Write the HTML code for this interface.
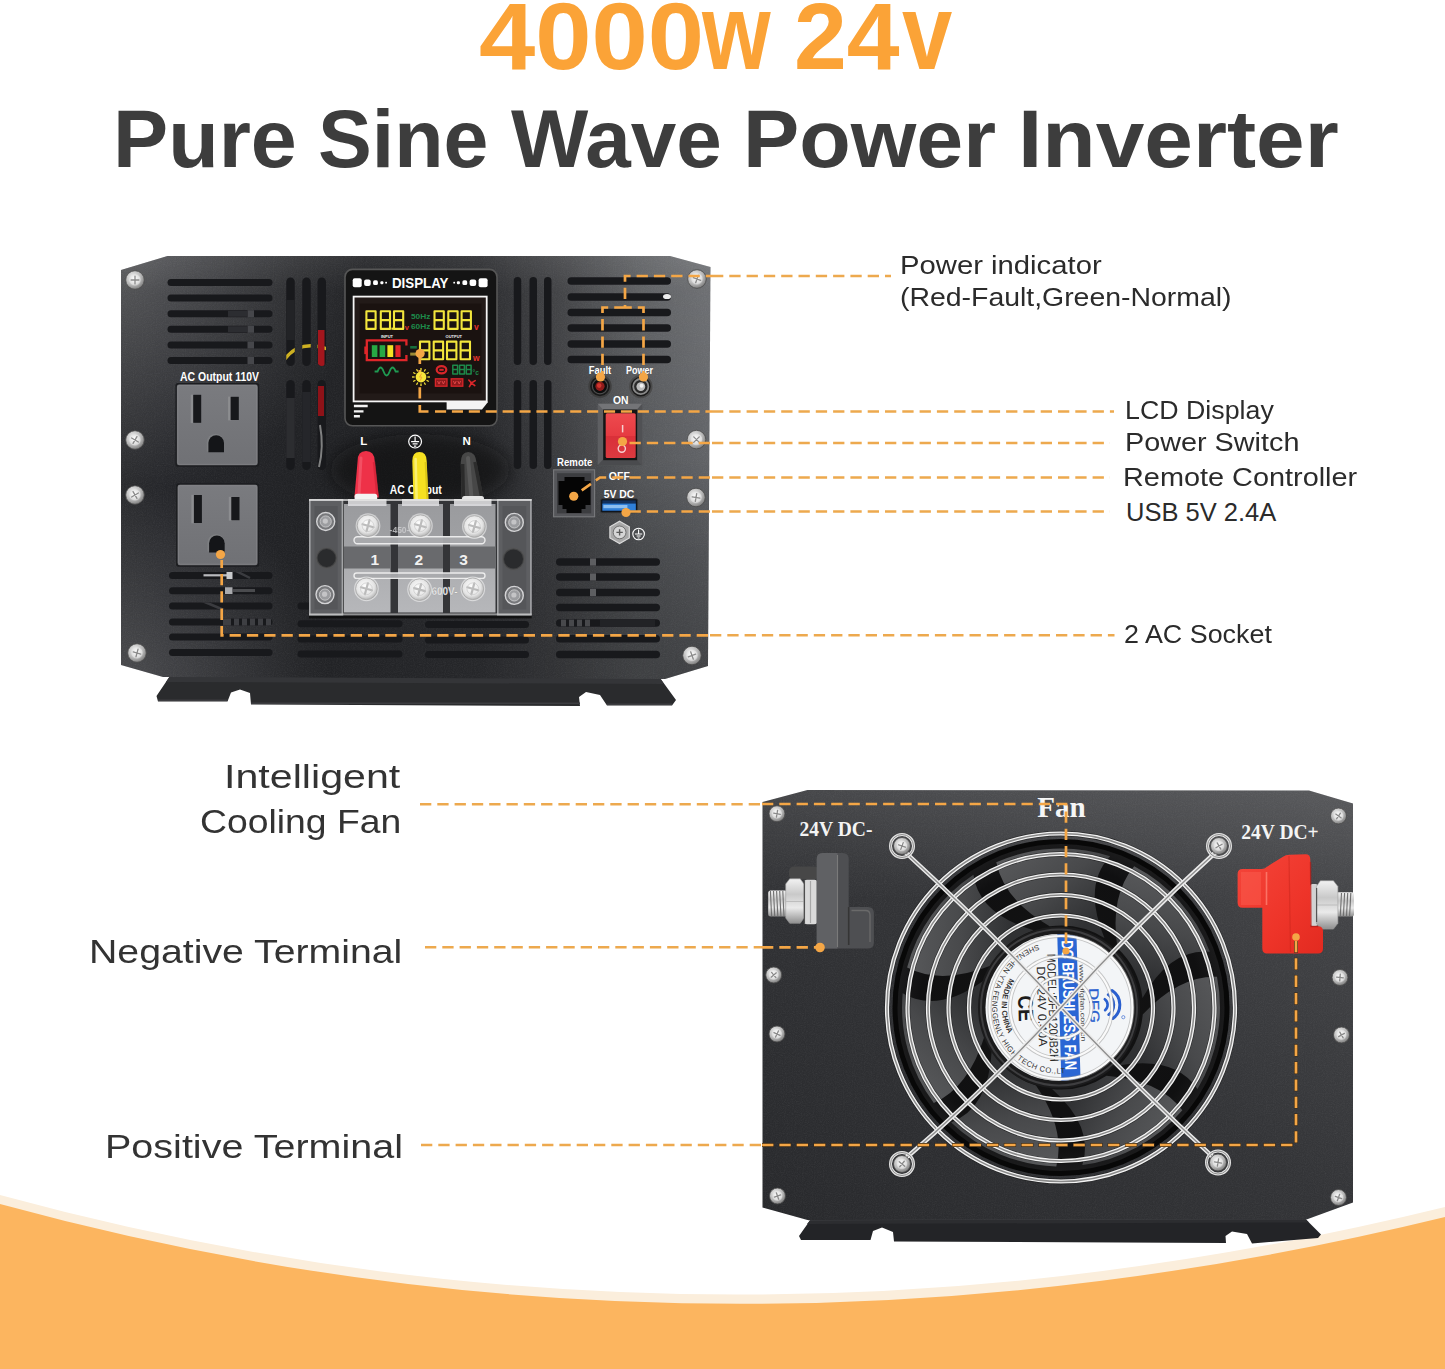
<!DOCTYPE html>
<html lang="en"><head><meta charset="utf-8"><title>4000w 24v Pure Sine Wave Power Inverter</title>
<style>
html,body{margin:0;padding:0;background:#fff}
body{width:1445px;height:1369px;overflow:hidden;position:relative;font-family:"Liberation Sans",sans-serif}
svg{position:absolute;left:0;top:0;display:block}
.grp{position:absolute;left:0;top:0;margin:0;padding:0;width:0;height:0;font-size:0;line-height:0}
.t{display:block;position:absolute;white-space:nowrap;transform-origin:0 0;line-height:1;margin:0}
svg text{font-family:"Liberation Sans",sans-serif}
svg text.serif{font-family:"Liberation Serif",serif}
</style></head><body>
<svg width="1445" height="1369" viewBox="0 0 1445 1369">
<path d="M0 1195 Q707 1388 1445 1207 V1369 H0Z" fill="#fbeedc"/>
<path d="M0 1204 Q707 1397 1445 1217 V1369 H0Z" fill="#fcb55f"/>
</svg>
<svg width="1445" height="1369" viewBox="0 0 1445 1369">
<defs>
<radialGradient id="gScrew" cx="0.4" cy="0.35" r="0.75"><stop offset="0" stop-color="#f4f4f4"/><stop offset="0.55" stop-color="#b9b9b9"/><stop offset="1" stop-color="#6a6a6a"/></radialGradient>
<radialGradient id="gScrewIn" cx="0.45" cy="0.4" r="0.7"><stop offset="0" stop-color="#ffffff"/><stop offset="0.7" stop-color="#dcdcdc"/><stop offset="1" stop-color="#a8a8a8"/></radialGradient>
<linearGradient id="gBodyT" gradientUnits="userSpaceOnUse" x1="121" y1="0" x2="710" y2="0"><stop offset="0" stop-color="#292a2d"/><stop offset="0.075" stop-color="#25262a"/><stop offset="0.30" stop-color="#212225"/><stop offset="0.61" stop-color="#26272a"/><stop offset="0.745" stop-color="#37383b"/><stop offset="0.88" stop-color="#4e5053"/><stop offset="1" stop-color="#5b5d61"/></linearGradient><radialGradient id="gTL" gradientUnits="userSpaceOnUse" cx="130" cy="256" r="235"><stop offset="0" stop-color="#fff" stop-opacity="0.22"/><stop offset="1" stop-color="#fff" stop-opacity="0"/></radialGradient><radialGradient id="gBL" gradientUnits="userSpaceOnUse" cx="130" cy="682" r="200"><stop offset="0" stop-color="#fff" stop-opacity="0.16"/><stop offset="1" stop-color="#fff" stop-opacity="0"/></radialGradient><radialGradient id="gTR" gradientUnits="userSpaceOnUse" cx="712" cy="256" r="300"><stop offset="0" stop-color="#fff" stop-opacity="0.13"/><stop offset="1" stop-color="#fff" stop-opacity="0"/></radialGradient><radialGradient id="gBR" gradientUnits="userSpaceOnUse" cx="712" cy="684" r="230"><stop offset="0" stop-color="#000" stop-opacity="0.30"/><stop offset="1" stop-color="#000" stop-opacity="0"/></radialGradient><linearGradient id="gTopBand" gradientUnits="userSpaceOnUse" x1="0" y1="256" x2="0" y2="292"><stop offset="0" stop-color="#fff" stop-opacity="0.07"/><stop offset="1" stop-color="#fff" stop-opacity="0"/></linearGradient>
<linearGradient id="gSock" x1="0" y1="0" x2="0" y2="1"><stop offset="0" stop-color="#7a7b7f"/><stop offset="1" stop-color="#707175"/></linearGradient>
<linearGradient id="gRed" x1="0" y1="0" x2="0" y2="1"><stop offset="0" stop-color="#ee4a4e"/><stop offset="0.5" stop-color="#e63b42"/><stop offset="0.52" stop-color="#d93039"/><stop offset="1" stop-color="#dc3a40"/></linearGradient>
<linearGradient id="gCell" x1="0" y1="0" x2="0" y2="1"><stop offset="0" stop-color="#9a9b9e"/><stop offset="0.38" stop-color="#a0a1a4"/><stop offset="0.62" stop-color="#aeafb2"/><stop offset="1" stop-color="#b6b7ba"/></linearGradient>
<radialGradient id="gTS" cx="0.45" cy="0.4" r="0.7"><stop offset="0" stop-color="#ffffff"/><stop offset="0.6" stop-color="#e4e4e4"/><stop offset="1" stop-color="#9d9d9d"/></radialGradient>
<filter id="grain" x="0" y="0" width="100%" height="100%"><feTurbulence type="fractalNoise" baseFrequency="0.9" numOctaves="2" seed="3" result="n"/><feColorMatrix in="n" type="matrix" values="0 0 0 0 1  0 0 0 0 1  0 0 0 0 1  0.5 0.5 0.5 0 -0.62"/><feComposite in2="SourceGraphic" operator="in"/></filter>
<filter id="blur6" x="-50%" y="-100%" width="200%" height="300%"><feGaussianBlur stdDeviation="9"/></filter>
</defs>
<path d="M170 676 L660 678 L676 700 L672 705.5 L607 705.5 L600 695 L586 692 L579 697 L580 706 L251 704.5 L250 693 L240 689.5 L231 692.5 L227.5 701.5 L158 701.5 L156.5 696 Z" fill="#2a2b2d"/>
<path d="M170 676 L660 678 L664 684 L166 682 Z" fill="#343538"/><path d="M158 700.2H227.5M251 703.2H580M607 704.2H672" stroke="#3c3d40" stroke-width="1.6" fill="none"/>
<path d="M167.5 256 L670 256 L710.5 267 L708 666 L665 679 L163 677 L121 665 L121 270 Z" fill="url(#gBodyT)"/>
<path d="M167.5 256 L670 256 L710.5 267 L708 666 L665 679 L163 677 L121 665 L121 270 Z" fill="url(#gTL)"/>
<path d="M167.5 256 L670 256 L710.5 267 L708 666 L665 679 L163 677 L121 665 L121 270 Z" fill="url(#gBL)"/>
<path d="M167.5 256 L670 256 L710.5 267 L708 666 L665 679 L163 677 L121 665 L121 270 Z" fill="url(#gTR)"/>
<path d="M167.5 256 L670 256 L710.5 267 L708 666 L665 679 L163 677 L121 665 L121 270 Z" fill="url(#gBR)"/>
<path d="M167.5 256 L670 256 L710.5 267 L708 666 L665 679 L163 677 L121 665 L121 270 Z" fill="url(#gTopBand)"/>
<path d="M167.5 256 L670 256 L710.5 267 L708 666 L665 679 L163 677 L121 665 L121 270 Z" fill="#fff" opacity="0.10" filter="url(#grain)"/>
<ellipse cx="420" cy="470" rx="90" ry="36" fill="#0a0a0a" opacity="0.6" filter="url(#blur6)"/>
<rect x="167.5" y="279.0" width="105.0" height="7" rx="3.5" fill="#18191c"/>
<rect x="167.5" y="294.5" width="105.0" height="7" rx="3.5" fill="#18191c"/>
<rect x="167.5" y="310.25" width="105.0" height="7" rx="3.5" fill="#18191c"/>
<rect x="167.5" y="325.75" width="105.0" height="7" rx="3.5" fill="#18191c"/>
<rect x="167.5" y="341.5" width="105.0" height="7" rx="3.5" fill="#18191c"/>
<rect x="167.5" y="357.0" width="105.0" height="7" rx="3.5" fill="#18191c"/>
<rect x="169" y="572.0" width="103.5" height="7" rx="3.5" fill="#18191c"/>
<rect x="169" y="587.25" width="103.5" height="7" rx="3.5" fill="#18191c"/>
<rect x="169" y="602.5" width="103.5" height="7" rx="3.5" fill="#18191c"/>
<rect x="169" y="618.5" width="103.5" height="7" rx="3.5" fill="#18191c"/>
<rect x="169" y="633.5" width="103.5" height="7" rx="3.5" fill="#18191c"/>
<rect x="169" y="649.0" width="103.5" height="7" rx="3.5" fill="#18191c"/>
<rect x="286.25" y="277.5" width="8.5" height="88.5" rx="4.25" fill="#18191c"/>
<rect x="286.25" y="380" width="8.5" height="90" rx="4.25" fill="#18191c"/>
<rect x="302.25" y="277.5" width="8.5" height="88.5" rx="4.25" fill="#18191c"/>
<rect x="302.25" y="380" width="8.5" height="90" rx="4.25" fill="#18191c"/>
<rect x="317.5" y="277.5" width="8.5" height="88.5" rx="4.25" fill="#18191c"/>
<rect x="317.5" y="380" width="8.5" height="90" rx="4.25" fill="#18191c"/>
<clipPath id="cSlotsL"><rect x="286.25" y="277.5" width="8.5" height="88.5" rx="4.25"/><rect x="286.25" y="380" width="8.5" height="90" rx="4.25"/><rect x="302.25" y="277.5" width="8.5" height="88.5" rx="4.25"/><rect x="302.25" y="380" width="8.5" height="90" rx="4.25"/><rect x="317.5" y="277.5" width="8.5" height="88.5" rx="4.25"/><rect x="317.5" y="380" width="8.5" height="90" rx="4.25"/></clipPath>
<g clip-path="url(#cSlotsL)">
<path d="M284 360 Q300 338 330 350" stroke="#cdb022" stroke-width="3.4" fill="none"/>
<rect x="318" y="330" width="6.5" height="36" fill="#a3161d"/>
<rect x="318" y="386" width="6" height="30" fill="#8e1218"/>
<rect x="286" y="398" width="9" height="60" fill="#2c2d30"/><rect x="302" y="392" width="9" height="70" fill="#25262a"/>
<path d="M320 425 q4 22 -1 42" stroke="#9a9a9a" stroke-width="2" fill="none" opacity="0.8"/>
<rect x="286" y="300" width="9" height="40" fill="#222326"/>
</g>
<rect x="513.75" y="277" width="7.5" height="88" rx="3.75" fill="#18191c"/>
<rect x="513.75" y="380" width="7.5" height="89" rx="3.75" fill="#18191c"/>
<rect x="529.5" y="277" width="7.5" height="88" rx="3.75" fill="#18191c"/>
<rect x="529.5" y="380" width="7.5" height="89" rx="3.75" fill="#18191c"/>
<rect x="544.0" y="277" width="7.5" height="88" rx="3.75" fill="#18191c"/>
<rect x="544.0" y="380" width="7.5" height="89" rx="3.75" fill="#18191c"/>
<rect x="567.5" y="277.25" width="103.5" height="7.5" rx="3.75" fill="#18191c"/>
<rect x="567.5" y="293.25" width="103.5" height="7.5" rx="3.75" fill="#18191c"/>
<rect x="567.5" y="308.75" width="103.5" height="7.5" rx="3.75" fill="#18191c"/>
<rect x="567.5" y="324.25" width="103.5" height="7.5" rx="3.75" fill="#18191c"/>
<rect x="567.5" y="340.25" width="103.5" height="7.5" rx="3.75" fill="#18191c"/>
<rect x="567.5" y="355.75" width="103.5" height="7.5" rx="3.75" fill="#18191c"/>
<rect x="297.5" y="602.5" width="105.0" height="7" rx="3.5" fill="#18191c"/>
<rect x="297.5" y="620.25" width="105.0" height="7" rx="3.5" fill="#18191c"/>
<rect x="297.5" y="635.5" width="105.0" height="7" rx="3.5" fill="#18191c"/>
<rect x="297.5" y="650.5" width="105.0" height="7" rx="3.5" fill="#18191c"/>
<rect x="425" y="621.0" width="104" height="7" rx="3.5" fill="#18191c"/>
<rect x="425" y="636.5" width="104" height="7" rx="3.5" fill="#18191c"/>
<rect x="425" y="651.0" width="104" height="7" rx="3.5" fill="#18191c"/>
<rect x="556" y="558.25" width="104" height="7.5" rx="3.75" fill="#18191c"/>
<rect x="556" y="573.25" width="104" height="7.5" rx="3.75" fill="#18191c"/>
<rect x="556" y="588.75" width="104" height="7.5" rx="3.75" fill="#18191c"/>
<rect x="556" y="603.75" width="104" height="7.5" rx="3.75" fill="#18191c"/>
<rect x="556" y="619.25" width="104" height="7.5" rx="3.75" fill="#18191c"/>
<rect x="556" y="635.0" width="104" height="7.5" rx="3.75" fill="#18191c"/>
<rect x="556" y="650.75" width="104" height="7.5" rx="3.75" fill="#18191c"/>
<rect x="247.5" y="310.25" width="6.5" height="7" fill="#46474b"/>
<rect x="247.5" y="325.75" width="6.5" height="7" fill="#46474b"/>
<rect x="247.5" y="341.5" width="6.5" height="7" fill="#46474b"/>
<rect x="247.5" y="357.0" width="6.5" height="7" fill="#46474b"/>
<rect x="228" y="310.75" width="19" height="6" fill="#2c2d31"/>
<rect x="228" y="326.25" width="19" height="6" fill="#2c2d31"/>
<clipPath id="cSlotsBL"><rect x="169" y="572.0" width="103.5" height="7" rx="3.5"/><rect x="169" y="587.25" width="103.5" height="7" rx="3.5"/><rect x="169" y="602.5" width="103.5" height="7" rx="3.5"/><rect x="169" y="618.5" width="103.5" height="7" rx="3.5"/><rect x="169" y="633.5" width="103.5" height="7" rx="3.5"/><rect x="169" y="649.0" width="103.5" height="7" rx="3.5"/></clipPath><g clip-path="url(#cSlotsBL)">
<rect x="203.5" y="574.2" width="26" height="2.2" fill="#b9babd"/><rect x="226.5" y="571.5" width="6" height="8" fill="#c9cacc"/>
<rect x="225" y="587" width="7.5" height="7" fill="#a9aaad"/><rect x="233" y="589" width="22" height="3" fill="#4a4b4e"/>
<path d="M234 570 l16 8 M200 600 l24 10" stroke="#3a3b3f" stroke-width="2.5"/>
<rect x="223" y="618" width="48" height="8" fill="#3e3f43"/><rect x="231" y="618" width="3" height="8" fill="#18191c"/><rect x="239" y="618" width="3" height="8" fill="#18191c"/><rect x="247" y="618" width="3" height="8" fill="#18191c"/><rect x="255" y="618" width="3" height="8" fill="#18191c"/><rect x="263" y="618" width="3" height="8" fill="#18191c"/>
</g>
<ellipse cx="667" cy="296.5" rx="4" ry="2.6" fill="#ededed"/>
<rect x="590" y="558.4" width="6" height="7.2" fill="#5d5e61"/>
<rect x="590" y="573.4" width="6" height="7.2" fill="#5d5e61"/>
<rect x="590" y="588.9" width="6" height="7.2" fill="#5d5e61"/>
<rect x="561" y="619.6" width="5" height="6.8" fill="#48494c"/><rect x="569" y="619.6" width="5" height="6.8" fill="#48494c"/><rect x="577" y="619.6" width="5" height="6.8" fill="#48494c"/><rect x="585" y="619.6" width="5" height="6.8" fill="#48494c"/>
<rect x="600" y="619.5" width="55" height="7" fill="#222326"/>
<g transform="translate(135,280)"><circle r="9.3" fill="url(#gScrew)" stroke="#4a4a4a" stroke-width="0.8"/><circle r="5.77" fill="url(#gScrewIn)"/><g transform="rotate(0)" stroke="#8a8a8a" stroke-width="1.3" stroke-linecap="round"><path d="M-3.91 0H3.91M0 -3.91V3.91"/></g></g>
<g transform="translate(135,440)"><circle r="9.3" fill="url(#gScrew)" stroke="#4a4a4a" stroke-width="0.8"/><circle r="5.77" fill="url(#gScrewIn)"/><g transform="rotate(30)" stroke="#8a8a8a" stroke-width="1.3" stroke-linecap="round"><path d="M-3.91 0H3.91M0 -3.91V3.91"/></g></g>
<g transform="translate(135,495)"><circle r="9.3" fill="url(#gScrew)" stroke="#4a4a4a" stroke-width="0.8"/><circle r="5.77" fill="url(#gScrewIn)"/><g transform="rotate(60)" stroke="#8a8a8a" stroke-width="1.3" stroke-linecap="round"><path d="M-3.91 0H3.91M0 -3.91V3.91"/></g></g>
<g transform="translate(137,653)"><circle r="9.3" fill="url(#gScrew)" stroke="#4a4a4a" stroke-width="0.8"/><circle r="5.77" fill="url(#gScrewIn)"/><g transform="rotate(15)" stroke="#8a8a8a" stroke-width="1.3" stroke-linecap="round"><path d="M-3.91 0H3.91M0 -3.91V3.91"/></g></g>
<g transform="translate(697,279)"><circle r="9.3" fill="url(#gScrew)" stroke="#4a4a4a" stroke-width="0.8"/><circle r="5.77" fill="url(#gScrewIn)"/><g transform="rotate(20)" stroke="#8a8a8a" stroke-width="1.3" stroke-linecap="round"><path d="M-3.91 0H3.91M0 -3.91V3.91"/></g></g>
<g transform="translate(696.5,439.6)"><circle r="9.3" fill="url(#gScrew)" stroke="#4a4a4a" stroke-width="0.8"/><circle r="5.77" fill="url(#gScrewIn)"/><g transform="rotate(45)" stroke="#8a8a8a" stroke-width="1.3" stroke-linecap="round"><path d="M-3.91 0H3.91M0 -3.91V3.91"/></g></g>
<g transform="translate(696,497.5)"><circle r="9.3" fill="url(#gScrew)" stroke="#4a4a4a" stroke-width="0.8"/><circle r="5.77" fill="url(#gScrewIn)"/><g transform="rotate(10)" stroke="#8a8a8a" stroke-width="1.3" stroke-linecap="round"><path d="M-3.91 0H3.91M0 -3.91V3.91"/></g></g>
<g transform="translate(692,655.5)"><circle r="9.3" fill="url(#gScrew)" stroke="#4a4a4a" stroke-width="0.8"/><circle r="5.77" fill="url(#gScrewIn)"/><g transform="rotate(70)" stroke="#8a8a8a" stroke-width="1.3" stroke-linecap="round"><path d="M-3.91 0H3.91M0 -3.91V3.91"/></g></g>
<text x="219.5" y="380.8" font-size="13.4" font-weight="700" fill="#fff" text-anchor="middle" textLength="79" lengthAdjust="spacingAndGlyphs">AC Output 110V</text>
<rect x="175.4" y="383.1" width="83.8" height="83.7" rx="2.5" fill="#1c1d20"/><rect x="176.9" y="384.6" width="80.8" height="80.7" rx="2.2" fill="url(#gSock)"/><rect x="177.9" y="385.6" width="78.8" height="78.7" rx="1.8" fill="none" stroke="#8a8b8e" stroke-width="1" opacity="0.55"/><rect x="190.70000000000002" y="394.6" width="3" height="28.5" fill="#8c8d90"/><rect x="193.20000000000002" y="394.8" width="8" height="28" fill="#17181b"/><rect x="228.10000000000002" y="396.6" width="3" height="23.8" fill="#8c8d90"/><rect x="230.60000000000002" y="396.8" width="8.2" height="23.2" fill="#17181b"/><path d="M207.6 452.20000000000005V443.1a8.6 8.6 0 0 1 17.2 0V452.20000000000005Z" fill="#8a8b8e" opacity="0.5" transform="translate(-0.8,-0.8)"/><path d="M208.39999999999998 452.20000000000005V443.1a7.8 7.8 0 0 1 15.6 0V452.20000000000005Z" fill="#141518"/>
<rect x="176.1" y="483.3" width="83" height="83.4" rx="2.5" fill="#1c1d20"/><rect x="177.6" y="484.8" width="80" height="80.4" rx="2.2" fill="url(#gSock)"/><rect x="178.6" y="485.8" width="78" height="78.4" rx="1.8" fill="none" stroke="#8a8b8e" stroke-width="1" opacity="0.55"/><rect x="191.4" y="494.8" width="3" height="28.5" fill="#8c8d90"/><rect x="193.9" y="495.0" width="8" height="28" fill="#17181b"/><rect x="228.8" y="496.8" width="3" height="23.8" fill="#8c8d90"/><rect x="231.3" y="497.0" width="8.2" height="23.2" fill="#17181b"/><path d="M208.29999999999998 552.4V543.3a8.6 8.6 0 0 1 17.2 0V552.4Z" fill="#8a8b8e" opacity="0.5" transform="translate(-0.8,-0.8)"/><path d="M209.09999999999997 552.4V543.3a7.8 7.8 0 0 1 15.6 0V552.4Z" fill="#141518"/>
<rect x="345" y="269.4" width="152" height="156.4" rx="7.5" fill="#141414" stroke="#565656" stroke-width="1.6"/>
<text x="420.2" y="287.6" font-size="14.2" font-weight="700" fill="#fff" text-anchor="middle" textLength="56.6" lengthAdjust="spacingAndGlyphs">DISPLAY</text>
<rect x="352.7" y="278.2" width="9" height="9" rx="2.0" fill="#fff"/>
<rect x="478.6" y="278.2" width="9" height="9" rx="2.0" fill="#fff"/>
<rect x="364.1" y="279.4" width="6.6" height="6.6" rx="2.0" fill="#fff"/>
<rect x="469.6" y="279.4" width="6.6" height="6.6" rx="2.0" fill="#fff"/>
<rect x="373.1" y="280.3" width="4.8" height="4.8" rx="1.6" fill="#fff"/>
<rect x="462.4" y="280.3" width="4.8" height="4.8" rx="1.6" fill="#fff"/>
<rect x="380.4" y="281.2" width="3" height="3" rx="1.0" fill="#fff"/>
<rect x="456.9" y="281.2" width="3" height="3" rx="1.0" fill="#fff"/>
<rect x="385.2" y="281.8" width="1.8" height="1.8" rx="0.6" fill="#fff"/>
<rect x="453.3" y="281.8" width="1.8" height="1.8" rx="0.6" fill="#fff"/>
<path d="M446.6 401.5H487.6V402.5L482 409.6H446.6Z" fill="#f4f4f4"/>
<rect x="353.6" y="296.6" width="133.1" height="104.8" fill="#221a18" stroke="#f6f6f6" stroke-width="1.8"/>
<rect x="359.5" y="303.5" width="122" height="90" fill="#1a1210"/>
<path d="M353.9 406h13.8M353.9 411.4h9.6M353.9 416.2h6" stroke="#f2f2f2" stroke-width="2.4"/>
<path d="M366.4 311.3h9.2v17.6h-9.2zM366.4 320.1h9.2" fill="none" stroke="#f3e63c" stroke-width="2.1" stroke-linejoin="round"/>
<path d="M380.8 311.3h9.2v17.6h-9.2zM380.8 320.1h9.2" fill="none" stroke="#f3e63c" stroke-width="2.1" stroke-linejoin="round"/>
<path d="M394 311.3h9.2v17.6h-9.2zM394 320.1h9.2" fill="none" stroke="#f3e63c" stroke-width="2.1" stroke-linejoin="round"/>
<rect x="391.4" y="327.6" width="2.2" height="2.2" fill="#f3e63c"/>
<text x="404.8" y="329.5" font-size="7.5" font-weight="700" fill="#e5322d">v</text>
<text x="411" y="318.8" font-size="7.6" font-weight="700" fill="#1d8a4a" textLength="19.4" lengthAdjust="spacingAndGlyphs">50Hz</text>
<text x="411" y="329.4" font-size="7.6" font-weight="700" fill="#1d8a4a" textLength="19.4" lengthAdjust="spacingAndGlyphs">60Hz</text>
<path d="M434.5 311.3h9.3v17.6h-9.3zM434.5 320.1h9.3" fill="none" stroke="#f3e63c" stroke-width="2.1" stroke-linejoin="round"/>
<path d="M448.3 311.3h9.3v17.6h-9.3zM448.3 320.1h9.3" fill="none" stroke="#f3e63c" stroke-width="2.1" stroke-linejoin="round"/>
<path d="M461.6 311.3h9.3v17.6h-9.3zM461.6 320.1h9.3" fill="none" stroke="#f3e63c" stroke-width="2.1" stroke-linejoin="round"/>
<text x="474" y="329.8" font-size="8.5" font-weight="700" fill="#e5322d">v</text>
<text x="387" y="337.8" font-size="4" font-weight="700" fill="#f0f0f0" text-anchor="middle">INPUT</text>
<text x="453.8" y="337.8" font-size="4" font-weight="700" fill="#f0f0f0" text-anchor="middle">OUTPUT</text>
<path d="M406.4 345.5v-5.2h-39.6v19.9h39.6v-5.2" fill="none" stroke="#e0262a" stroke-width="2.3"/>
<rect x="364.3" y="346.5" width="2.8" height="7.6" fill="#e0262a"/>
<rect x="371.8" y="345.2" width="5.6" height="11.8" fill="#27a844"/>
<rect x="379.6" y="345.2" width="5.6" height="11.8" fill="#27a844"/>
<rect x="387.4" y="345.2" width="5.8" height="11.8" fill="#f3e324"/>
<rect x="395.4" y="345.2" width="5.2" height="11.8" fill="#e0262a"/>
<rect x="410.2" y="346" width="6.6" height="2.6" fill="#176f3d"/><rect x="410.2" y="352.6" width="6.6" height="3" fill="#9c8a35"/>
<path d="M420 341.6h9.4v17.6h-9.4zM420 350.40000000000003h9.4" fill="none" stroke="#f3e63c" stroke-width="2.1" stroke-linejoin="round"/>
<path d="M433.7 341.6h9.4v17.6h-9.4zM433.7 350.40000000000003h9.4" fill="none" stroke="#f3e63c" stroke-width="2.1" stroke-linejoin="round"/>
<path d="M447 341.6h9.4v17.6h-9.4zM447 350.40000000000003h9.4" fill="none" stroke="#f3e63c" stroke-width="2.1" stroke-linejoin="round"/>
<path d="M460.6 341.6h9.4v17.6h-9.4zM460.6 350.40000000000003h9.4" fill="none" stroke="#f3e63c" stroke-width="2.1" stroke-linejoin="round"/>
<text x="473" y="361" font-size="8.5" font-weight="700" fill="#e5322d">w</text>
<path d="M374.6 371.5h3q3-8 6 0t6 0q3-8 6 0h3" fill="none" stroke="#1f9a52" stroke-width="1.8"/>
<ellipse cx="441.5" cy="369.8" rx="4.8" ry="3.6" fill="none" stroke="#d9262a" stroke-width="2.2"/><rect x="439.3" y="368.8" width="4.4" height="2" fill="#d9262a"/>
<path d="M452.8 365.2h4.8v8.8h-4.8zM452.8 369.59999999999997h4.8" fill="none" stroke="#1d8a4a" stroke-width="1.5" stroke-linejoin="round"/>
<path d="M459.6 365.2h4.8v8.8h-4.8zM459.6 369.59999999999997h4.8" fill="none" stroke="#1d8a4a" stroke-width="1.5" stroke-linejoin="round"/>
<path d="M466.3 365.2h4.8v8.8h-4.8zM466.3 369.59999999999997h4.8" fill="none" stroke="#1d8a4a" stroke-width="1.5" stroke-linejoin="round"/>
<text x="472.6" y="374.5" font-size="6.6" font-weight="700" fill="#1d8a4a">°c</text>
<rect x="435.4" y="378.8" width="11.6" height="7.4" fill="#8f1a1c" stroke="#d9262a" stroke-width="1.3"/>
<path d="M437.59999999999997 381l1.4 3l1.4-3M442.0 381l1.4 3l1.4-3" fill="none" stroke="#e5484a" stroke-width="0.9"/>
<rect x="451.2" y="378.8" width="11.6" height="7.4" fill="#8f1a1c" stroke="#d9262a" stroke-width="1.3"/>
<path d="M453.4 381l1.4 3l1.4-3M457.8 381l1.4 3l1.4-3" fill="none" stroke="#e5484a" stroke-width="0.9"/>
<g stroke="#d9262a" stroke-width="1.6" fill="none" stroke-linecap="round"><path d="M468.8 380l2.6 3l3.8-2.4M471.4 383l-2 3.6M471.4 383l3.4 2.6"/></g><circle cx="471.4" cy="383" r="1.3" fill="#d9262a"/>
<text x="363.8" y="445.4" font-size="11.5" font-weight="700" fill="#fff" text-anchor="middle">L</text>
<text x="466.7" y="445.4" font-size="11.5" font-weight="700" fill="#fff" text-anchor="middle">N</text>
<g stroke="#fff" stroke-width="1.2" fill="none"><circle cx="415.1" cy="441.6" r="6.4"/><path d="M415.1 436.6v5M411.1 441.6h8M412.6 443.9h5M413.9 446.1h2.4"/></g>
<text x="415.8" y="493.8" font-size="12" font-weight="700" fill="#fff" text-anchor="middle" textLength="52" lengthAdjust="spacingAndGlyphs">AC Output</text>
<path d="M357.6 461 Q357.6 451 366 451 Q374.4 451 374.7 461 L378.8 497.5 L354.4 497.5 Z" fill="#ee3148"/>
<path d="M361 458 L359 494" stroke="#f7687a" stroke-width="3" stroke-linecap="round" fill="none" opacity="0.55"/>
<path d="M374 462 L377.5 496" stroke="#c81f33" stroke-width="2.5" fill="none" opacity="0.6"/>
<rect x="354.6" y="493.8" width="22.6" height="9" rx="2.5" fill="#f3f3f3"/>
<path d="M412.3 461 Q412.3 452 419.4 452 Q426.5 452 426.7 461 L428.6 502 L413.6 502 Z" fill="#f5e021"/>
<path d="M415.6 459 L416.6 499" stroke="#fbf284" stroke-width="2.6" stroke-linecap="round" fill="none" opacity="0.8"/>
<path d="M425.6 462 L427.4 500" stroke="#d2bc12" stroke-width="2" fill="none" opacity="0.7"/>
<path d="M460.7 463 Q461 452 468.2 452 Q475.6 452 476.6 463 L484 501 L461.6 501 Z" fill="#474747"/>
<path d="M462.6 464 L463.4 499" stroke="#2a2a2a" stroke-width="3.5" fill="none"/>
<path d="M475 462 L482 499" stroke="#2c2c2c" stroke-width="3.5" fill="none"/>
<path d="M468 458 L471.5 498" stroke="#5e5e5e" stroke-width="4" stroke-linecap="round" fill="none" opacity="0.8"/>
<rect x="462" y="496" width="22" height="7" rx="2.5" fill="#e6e6e6"/>
<rect x="309" y="613.4" width="222.70000000000005" height="5" fill="#0d0d0d" opacity="0.85"/><rect x="309" y="499" width="222.70000000000005" height="116.39999999999998" fill="#343538"/><rect x="309" y="499" width="34.19999999999999" height="116.39999999999998" fill="#5e5f62"/><rect x="309.8" y="499.8" width="32.59999999999999" height="114.79999999999998" fill="none" stroke="#b4b5b8" stroke-width="1.6" opacity="0.8"/><rect x="314.5" y="506" width="23.19999999999999" height="103.39999999999998" fill="#535457" opacity="0.8"/><rect x="497" y="499" width="34.700000000000045" height="116.39999999999998" fill="#5e5f62"/><rect x="497.8" y="499.8" width="33.100000000000044" height="114.79999999999998" fill="none" stroke="#b4b5b8" stroke-width="1.6" opacity="0.8"/><rect x="502.5" y="506" width="23.700000000000045" height="103.39999999999998" fill="#535457" opacity="0.8"/><circle cx="326.6" cy="558" r="10" fill="#2a2b2d"/><circle cx="326.6" cy="558" r="10" fill="none" stroke="#555" stroke-width="2" opacity="0.6"/><circle cx="513.5" cy="559" r="10.5" fill="#2a2b2d"/><circle cx="513.5" cy="559" r="10.5" fill="none" stroke="#555" stroke-width="2" opacity="0.6"/><circle cx="325.7" cy="521.5" r="9" fill="#77787b" stroke="#d4d4d6" stroke-width="1.4"/><circle cx="325.7" cy="521.5" r="5.6" fill="#9c9da0" stroke="#c9c9cb" stroke-width="0.9"/><circle cx="325.3" cy="521.1" r="2.6" fill="#c4c4c6"/><circle cx="325" cy="594.6" r="9" fill="#77787b" stroke="#d4d4d6" stroke-width="1.4"/><circle cx="325" cy="594.6" r="5.6" fill="#9c9da0" stroke="#c9c9cb" stroke-width="0.9"/><circle cx="324.6" cy="594.2" r="2.6" fill="#c4c4c6"/><circle cx="514.3" cy="522.4" r="9" fill="#77787b" stroke="#d4d4d6" stroke-width="1.4"/><circle cx="514.3" cy="522.4" r="5.6" fill="#9c9da0" stroke="#c9c9cb" stroke-width="0.9"/><circle cx="513.9" cy="522.0" r="2.6" fill="#c4c4c6"/><circle cx="514.3" cy="595.4" r="9" fill="#77787b" stroke="#d4d4d6" stroke-width="1.4"/><circle cx="514.3" cy="595.4" r="5.6" fill="#9c9da0" stroke="#c9c9cb" stroke-width="0.9"/><circle cx="513.9" cy="595.0" r="2.6" fill="#c4c4c6"/><rect x="344" y="504" width="46.5" height="108.5" fill="url(#gCell)"/><rect x="344" y="546.5" width="46.5" height="22" fill="#696a6d"/><rect x="348" y="499" width="38.5" height="7" fill="#dcdcde" opacity="0.9"/><rect x="398" y="504" width="45" height="108.5" fill="url(#gCell)"/><rect x="398" y="546.5" width="45" height="22" fill="#696a6d"/><rect x="402" y="499" width="37" height="7" fill="#dcdcde" opacity="0.9"/><rect x="450" y="504" width="45.5" height="108.5" fill="url(#gCell)"/><rect x="450" y="546.5" width="45.5" height="22" fill="#696a6d"/><rect x="454" y="499" width="37.5" height="7" fill="#dcdcde" opacity="0.9"/><rect x="309" y="499" width="222.70000000000005" height="2" fill="#e8e8e8" opacity="0.7"/><rect x="309" y="613.4" width="222.70000000000005" height="2" fill="#cfcfcf" opacity="0.6"/><rect x="354" y="536.8" width="131" height="7" rx="3.5" fill="#a9aaad" stroke="#f0f0f0" stroke-width="1.4" opacity="0.95"/><rect x="354" y="573" width="131" height="5.4" rx="2.7" fill="#a9aaad" stroke="#f0f0f0" stroke-width="1.4" opacity="0.95"/><g transform="translate(368,525.7)"><circle r="12.4" fill="#f7f7f7" opacity="0.55"/><circle r="10.8" fill="url(#gTS)" stroke="#a5a5a5" stroke-width="0.8"/><path d="M-5.5 -1.5L5.5 1.5M-1.5 5.5L1.5 -5.5" stroke="#a9a9a9" stroke-width="2.2" stroke-linecap="round" opacity="0.75"/><circle r="5.9" fill="none" stroke="#c9c9c9" stroke-width="1" opacity="0.7"/></g><g transform="translate(420.4,525.7)"><circle r="12.4" fill="#f7f7f7" opacity="0.55"/><circle r="10.8" fill="url(#gTS)" stroke="#a5a5a5" stroke-width="0.8"/><path d="M-5.5 -1.5L5.5 1.5M-1.5 5.5L1.5 -5.5" stroke="#a9a9a9" stroke-width="2.2" stroke-linecap="round" opacity="0.75"/><circle r="5.9" fill="none" stroke="#c9c9c9" stroke-width="1" opacity="0.7"/></g><g transform="translate(474.4,526.5)"><circle r="12.4" fill="#f7f7f7" opacity="0.55"/><circle r="10.8" fill="url(#gTS)" stroke="#a5a5a5" stroke-width="0.8"/><path d="M-5.5 -1.5L5.5 1.5M-1.5 5.5L1.5 -5.5" stroke="#a9a9a9" stroke-width="2.2" stroke-linecap="round" opacity="0.75"/><circle r="5.9" fill="none" stroke="#c9c9c9" stroke-width="1" opacity="0.7"/></g><g transform="translate(366.4,588.8)"><circle r="12.4" fill="#f7f7f7" opacity="0.55"/><circle r="10.8" fill="url(#gTS)" stroke="#a5a5a5" stroke-width="0.8"/><path d="M-5.5 -1.5L5.5 1.5M-1.5 5.5L1.5 -5.5" stroke="#a9a9a9" stroke-width="2.2" stroke-linecap="round" opacity="0.75"/><circle r="5.9" fill="none" stroke="#c9c9c9" stroke-width="1" opacity="0.7"/></g><g transform="translate(419.6,589.6)"><circle r="12.4" fill="#f7f7f7" opacity="0.55"/><circle r="10.8" fill="url(#gTS)" stroke="#a5a5a5" stroke-width="0.8"/><path d="M-5.5 -1.5L5.5 1.5M-1.5 5.5L1.5 -5.5" stroke="#a9a9a9" stroke-width="2.2" stroke-linecap="round" opacity="0.75"/><circle r="5.9" fill="none" stroke="#c9c9c9" stroke-width="1" opacity="0.7"/></g><g transform="translate(472.8,588.8)"><circle r="12.4" fill="#f7f7f7" opacity="0.55"/><circle r="10.8" fill="url(#gTS)" stroke="#a5a5a5" stroke-width="0.8"/><path d="M-5.5 -1.5L5.5 1.5M-1.5 5.5L1.5 -5.5" stroke="#a9a9a9" stroke-width="2.2" stroke-linecap="round" opacity="0.75"/><circle r="5.9" fill="none" stroke="#c9c9c9" stroke-width="1" opacity="0.7"/></g><text x="374.8" y="565.2" font-size="15.5" font-weight="700" fill="#f1f1f1" text-anchor="middle">1</text><text x="418.8" y="565.2" font-size="15.5" font-weight="700" fill="#f1f1f1" text-anchor="middle">2</text><text x="463.6" y="565.2" font-size="15.5" font-weight="700" fill="#f1f1f1" text-anchor="middle">3</text><text x="399.5" y="533" font-size="8.5" font-weight="700" fill="#d0d0d2" text-anchor="middle" opacity="0.8">-450-</text><text x="444.5" y="595" font-size="10" font-weight="700" fill="#f3f3f3" stroke="#999" stroke-width="0.3" text-anchor="middle">600V-</text>
<text x="600" y="373.8" font-size="10.5" font-weight="700" fill="#fff" text-anchor="middle" textLength="22.5" lengthAdjust="spacingAndGlyphs">Fault</text><text x="639.5" y="373.8" font-size="10.5" font-weight="700" fill="#fff" text-anchor="middle" textLength="27" lengthAdjust="spacingAndGlyphs">Power</text><circle cx="600" cy="386.3" r="10.8" fill="#1a1a1a" stroke="#3f3f3f" stroke-width="1.8"/><circle cx="600" cy="386.3" r="7.6" fill="#0e0e0e" stroke="#4d4d4d" stroke-width="1.2"/><circle cx="600" cy="386.3" r="4.6" fill="#8e1c1b"/><circle cx="599.2" cy="385.6" r="2.3" fill="#d2362f"/><circle cx="640.8" cy="386.6" r="10.8" fill="#1a1a1a" stroke="#4a4a4a" stroke-width="1.8"/><circle cx="640.8" cy="386.6" r="7.6" fill="#2a2a2a" stroke="#8a8a8a" stroke-width="1.8"/><circle cx="640.8" cy="386.6" r="4.4" fill="#bdbdbd"/><circle cx="641.6" cy="385.8" r="2" fill="#f2f2f2"/><rect x="597.7" y="403.8" width="44.6" height="61.4" rx="1.5" fill="#5e5f62"/><path d="M597.7 403.8h44.6l-5 5.5h-34.6z" fill="#737477"/><path d="M597.7 465.2h44.6l-5-5.5h-34.6z" fill="#4a4b4e"/><path d="M642.3 403.8v61.4l-5-5.5v-50.4z" fill="#505154"/><rect x="603.2" y="409.6" width="34" height="50.6" fill="#151515"/><rect x="605.7" y="413.3" width="30" height="44.6" rx="1.5" fill="url(#gRed)"/><path d="M622.6 425v7.4" stroke="#f6d0d0" stroke-width="1.5"/><circle cx="621.8" cy="448.6" r="3.6" fill="none" stroke="#f6d0d0" stroke-width="1.4"/><text x="620.7" y="404.2" font-size="11.5" font-weight="700" fill="#fff" text-anchor="middle" textLength="15.5" lengthAdjust="spacingAndGlyphs">ON</text><text x="619.3" y="480.3" font-size="11.5" font-weight="700" fill="#fff" text-anchor="middle" textLength="21" lengthAdjust="spacingAndGlyphs">OFF</text><text x="574.7" y="465.8" font-size="11.5" font-weight="700" fill="#fff" text-anchor="middle" textLength="35.2" lengthAdjust="spacingAndGlyphs">Remote</text><rect x="553.6" y="469.8" width="41" height="47" fill="#55565a" stroke="#78797c" stroke-width="1.1"/><rect x="557" y="473.2" width="34.2" height="40.2" fill="#3c3d40"/><path d="M558.5 481h6v-4h20v4h6v24h-5v4h-4v4h-15v-4h-4v-4h-4z" fill="#050505"/><text x="619" y="497.6" font-size="11.5" font-weight="700" fill="#fff" text-anchor="middle" textLength="30.6" lengthAdjust="spacingAndGlyphs">5V DC</text><rect x="600.6" y="498.8" width="37" height="14" rx="1.5" fill="#10151c" stroke="#3c3c3c" stroke-width="0.8"/><rect x="602.4" y="500.4" width="33.4" height="10.6" fill="#12305c"/><rect x="602.4" y="503.6" width="33.4" height="7" fill="#2f7fd8"/><rect x="603.4" y="505" width="24" height="3.2" fill="#9cc9f4" opacity="0.85"/><path d="M619.6 521.2l9.7 5.6v11.2l-9.7 5.6l-9.7-5.6v-11.2z" fill="#a8a8a8" stroke="#dcdcdc" stroke-width="1.2"/><circle cx="619.6" cy="532.4" r="6.4" fill="#d6d6d6" stroke="#6f6f6f" stroke-width="1"/><path d="M616.4 532.4h6.4M619.6 529.2v6.4" stroke="#5a5a5a" stroke-width="1.4"/><g stroke="#fff" stroke-width="1.1" fill="none"><circle cx="638.6" cy="534" r="5.8"/><path d="M638.6 529.5v4.5M635 534h7.2M636.6 536h4M637.6 538h2"/></g>
</svg>
<svg width="1445" height="1369" viewBox="0 0 1445 1369">
<defs>
<linearGradient id="gBodyB" x1="0" y1="1" x2="1" y2="0"><stop offset="0" stop-color="#28292c"/><stop offset="0.5" stop-color="#333437"/><stop offset="1" stop-color="#494a4d"/></linearGradient>
<linearGradient id="gBlade" x1="0" y1="0" x2="1" y2="0.6"><stop offset="0" stop-color="#5e5f61"/><stop offset="0.6" stop-color="#48494b"/><stop offset="1" stop-color="#303133"/></linearGradient>
<linearGradient id="gNut" x1="0" y1="0" x2="0" y2="1"><stop offset="0" stop-color="#f2f2f2"/><stop offset="0.35" stop-color="#c9c9c9"/><stop offset="0.65" stop-color="#eaeaea"/><stop offset="1" stop-color="#8f8f8f"/></linearGradient>
<linearGradient id="gRedT" x1="0" y1="0" x2="1" y2="1"><stop offset="0" stop-color="#f4453a"/><stop offset="0.6" stop-color="#ee3429"/><stop offset="1" stop-color="#e22a20"/></linearGradient>
<linearGradient id="gGrayT" x1="0" y1="0" x2="1" y2="0"><stop offset="0" stop-color="#4a4a4a"/><stop offset="1" stop-color="#3a3a3a"/></linearGradient>
<radialGradient id="gFanBg" cx="0.5" cy="0.5" r="0.5"><stop offset="0" stop-color="#141414"/><stop offset="0.85" stop-color="#101011"/><stop offset="1" stop-color="#1c1c1d"/></radialGradient>
<clipPath id="cLabel"><circle cx="1059" cy="1007.5" r="73.5"/></clipPath>
<linearGradient id="gTopB" gradientUnits="userSpaceOnUse" x1="0" y1="790" x2="0" y2="900"><stop offset="0" stop-color="#fff" stop-opacity="0.09"/><stop offset="1" stop-color="#fff" stop-opacity="0"/></linearGradient>
</defs>
<path d="M811 1219 L1304 1217.5 L1321 1234.5 L1318 1238 L1252 1243.5 L1247 1234 L1232 1231.5 L1225.5 1236 L1226 1243 L894 1241.5 L893 1232 L882 1227.5 L873 1231 L870.5 1240 L801 1240 L799 1236 Z" fill="#232427"/>
<path d="M811 1219 L1304 1217.5 L1309 1222.5 L807 1224 Z" fill="#2c2d30"/><path d="M808 1219.8 L1306 1218.6" stroke="#55565a" stroke-width="1.1" fill="none"/>
<path d="M807.5 790 L1309 790.5 L1353 803.5 L1353 1202.5 L1306.5 1219.5 L807.5 1220 L762.5 1207.5 L762.5 802 Z" fill="url(#gBodyB)"/>
<path d="M807.5 790 L1309 790.5 L1353 803.5 L1353 1202.5 L1306.5 1219.5 L807.5 1220 L762.5 1207.5 L762.5 802 Z" fill="url(#gTopB)"/>
<path d="M807.5 790 L1309 790.5 L1353 803.5 L1353 1202.5 L1306.5 1219.5 L807.5 1220 L762.5 1207.5 L762.5 802 Z" fill="#fff" opacity="0.10" filter="url(#grain)"/>
<g transform="translate(777,813.75)"><circle r="8" fill="url(#gScrew)" stroke="#4a4a4a" stroke-width="0.8"/><circle r="4.96" fill="url(#gScrewIn)"/><g transform="rotate(10)" stroke="#8a8a8a" stroke-width="1.3" stroke-linecap="round"><path d="M-3.36 0H3.36M0 -3.36V3.36"/></g></g>
<g transform="translate(773.75,975)"><circle r="8" fill="url(#gScrew)" stroke="#4a4a4a" stroke-width="0.8"/><circle r="4.96" fill="url(#gScrewIn)"/><g transform="rotate(50)" stroke="#8a8a8a" stroke-width="1.3" stroke-linecap="round"><path d="M-3.36 0H3.36M0 -3.36V3.36"/></g></g>
<g transform="translate(777,1034)"><circle r="8" fill="url(#gScrew)" stroke="#4a4a4a" stroke-width="0.8"/><circle r="4.96" fill="url(#gScrewIn)"/><g transform="rotate(25)" stroke="#8a8a8a" stroke-width="1.3" stroke-linecap="round"><path d="M-3.36 0H3.36M0 -3.36V3.36"/></g></g>
<g transform="translate(777.5,1196)"><circle r="8" fill="url(#gScrew)" stroke="#4a4a4a" stroke-width="0.8"/><circle r="4.96" fill="url(#gScrewIn)"/><g transform="rotate(70)" stroke="#8a8a8a" stroke-width="1.3" stroke-linecap="round"><path d="M-3.36 0H3.36M0 -3.36V3.36"/></g></g>
<g transform="translate(1338.5,816)"><circle r="8" fill="url(#gScrew)" stroke="#4a4a4a" stroke-width="0.8"/><circle r="4.96" fill="url(#gScrewIn)"/><g transform="rotate(35)" stroke="#8a8a8a" stroke-width="1.3" stroke-linecap="round"><path d="M-3.36 0H3.36M0 -3.36V3.36"/></g></g>
<g transform="translate(1340,977.5)"><circle r="8" fill="url(#gScrew)" stroke="#4a4a4a" stroke-width="0.8"/><circle r="4.96" fill="url(#gScrewIn)"/><g transform="rotate(5)" stroke="#8a8a8a" stroke-width="1.3" stroke-linecap="round"><path d="M-3.36 0H3.36M0 -3.36V3.36"/></g></g>
<g transform="translate(1341.5,1035)"><circle r="8" fill="url(#gScrew)" stroke="#4a4a4a" stroke-width="0.8"/><circle r="4.96" fill="url(#gScrewIn)"/><g transform="rotate(60)" stroke="#8a8a8a" stroke-width="1.3" stroke-linecap="round"><path d="M-3.36 0H3.36M0 -3.36V3.36"/></g></g>
<g transform="translate(1338.5,1197.5)"><circle r="8" fill="url(#gScrew)" stroke="#4a4a4a" stroke-width="0.8"/><circle r="4.96" fill="url(#gScrewIn)"/><g transform="rotate(20)" stroke="#8a8a8a" stroke-width="1.3" stroke-linecap="round"><path d="M-3.36 0H3.36M0 -3.36V3.36"/></g></g>
<text class="serif" x="836" y="836" font-size="20" font-weight="700" fill="#f4f4f4" text-anchor="middle" textLength="73" lengthAdjust="spacingAndGlyphs">24V DC-</text>
<text class="serif" x="1280" y="838.5" font-size="20" font-weight="700" fill="#f4f4f4" text-anchor="middle" textLength="77.5" lengthAdjust="spacingAndGlyphs">24V DC+</text>
<text class="serif" x="1061.5" y="816.5" font-size="30" font-weight="700" fill="#f6f6f6" text-anchor="middle" textLength="48.5" lengthAdjust="spacingAndGlyphs">Fan</text>
<circle cx="1061" cy="1007.5" r="166" fill="url(#gFanBg)"/>
<path d="M-28.0 -77.1 Q-78.4 -93.5 -93.5 -128.6 A159 159 0 0 1 16.6 -158.1 Q-4.3 -123.9 28.0 -77.1 A82 82 0 0 0 -28.0 -77.1Z" transform="translate(1061,1007.5) rotate(12.0)" fill="url(#gBlade)"/>
<path d="M-28.0 -77.1 Q-78.4 -93.5 -93.5 -128.6 A159 159 0 0 1 16.6 -158.1 Q-4.3 -123.9 28.0 -77.1 A82 82 0 0 0 -28.0 -77.1Z" transform="translate(1061,1007.5) rotate(63.42857142857143)" fill="url(#gBlade)"/>
<path d="M-28.0 -77.1 Q-78.4 -93.5 -93.5 -128.6 A159 159 0 0 1 16.6 -158.1 Q-4.3 -123.9 28.0 -77.1 A82 82 0 0 0 -28.0 -77.1Z" transform="translate(1061,1007.5) rotate(114.85714285714286)" fill="url(#gBlade)"/>
<path d="M-28.0 -77.1 Q-78.4 -93.5 -93.5 -128.6 A159 159 0 0 1 16.6 -158.1 Q-4.3 -123.9 28.0 -77.1 A82 82 0 0 0 -28.0 -77.1Z" transform="translate(1061,1007.5) rotate(166.28571428571428)" fill="url(#gBlade)"/>
<path d="M-28.0 -77.1 Q-78.4 -93.5 -93.5 -128.6 A159 159 0 0 1 16.6 -158.1 Q-4.3 -123.9 28.0 -77.1 A82 82 0 0 0 -28.0 -77.1Z" transform="translate(1061,1007.5) rotate(217.71428571428572)" fill="url(#gBlade)"/>
<path d="M-28.0 -77.1 Q-78.4 -93.5 -93.5 -128.6 A159 159 0 0 1 16.6 -158.1 Q-4.3 -123.9 28.0 -77.1 A82 82 0 0 0 -28.0 -77.1Z" transform="translate(1061,1007.5) rotate(269.14285714285717)" fill="url(#gBlade)"/>
<path d="M-28.0 -77.1 Q-78.4 -93.5 -93.5 -128.6 A159 159 0 0 1 16.6 -158.1 Q-4.3 -123.9 28.0 -77.1 A82 82 0 0 0 -28.0 -77.1Z" transform="translate(1061,1007.5) rotate(320.57142857142856)" fill="url(#gBlade)"/>
<circle cx="1061" cy="1007.5" r="166" fill="none" stroke="#080808" stroke-width="5"/>
<circle cx="1059" cy="1007.5" r="81" fill="#1b1b1c"/>
<circle cx="1059" cy="1007.5" r="78" fill="none" stroke="#3e3e40" stroke-width="2"/>
<circle cx="1059" cy="1007.5" r="73.5" fill="#f3f5f7"/>
<g clip-path="url(#cLabel)"><g transform="rotate(-1.6 1059 1007.5)">
<rect x="1059.3" y="930" width="19.2" height="156" fill="#2a66d4"/>
<text transform="translate(1063.4,940.5) rotate(90)" font-size="16.5" font-weight="700" fill="#fff" textLength="130" lengthAdjust="spacingAndGlyphs">DC BRUSHLESS FAN</text>
<text transform="translate(1048.6,953.5) rotate(90)" font-size="12" fill="#2a2a2a" textLength="108" lengthAdjust="spacingAndGlyphs">MODEL:DFB1203B2H</text>
<text transform="translate(1037.8,966) rotate(90)" font-size="12" fill="#2a2a2a" textLength="80" lengthAdjust="spacingAndGlyphs">DC:24V  0.40A</text>
<text transform="translate(1089.6,989) rotate(90)" font-size="13.5" fill="#2a5fcf" stroke="#2a5fcf" stroke-width="0.3" textLength="35" lengthAdjust="spacingAndGlyphs">DFG</text>
<text transform="translate(1080.4,965) rotate(90)" font-size="6.5" fill="#444" textLength="77" lengthAdjust="spacingAndGlyphs">www.dfgfan.com.cn</text>
<g fill="none" stroke="#2a5fcf" stroke-linecap="round"><path d="M1105 1000.5 a7 7 0 0 1 0 11" stroke-width="2.6"/><path d="M1108.5 996 a12 12 0 0 1 0 20" stroke-width="2.8"/><path d="M1112.5 992 a17 17 0 0 1 0 28" stroke-width="3"/></g><circle cx="1123" cy="1019" r="1.6" fill="none" stroke="#2a5fcf" stroke-width="0.6"/>
<text transform="translate(1018.4,994.5) rotate(90)" font-size="21" font-weight="700" fill="#1c1c1c" textLength="26" lengthAdjust="spacingAndGlyphs">CE</text>
<path id="arcA" d="M1040 944 A 66 66 0 0 0 1066 1073" fill="none"/>
<text font-size="7.6" fill="#333" textLength="200" lengthAdjust="spacing"><textPath href="#arcA" startOffset="0">SHENZHEN YTA FENGGENLY HIGH TECH CO.,LTD</textPath></text>
<path id="arcB" d="M1012 975 A 54 54 0 0 0 1013 1040" fill="none"/>
<text font-size="7.6" font-weight="700" fill="#333"><textPath href="#arcB" startOffset="2">MADE IN CHINA</textPath></text>
</g></g>
<circle cx="1061" cy="1007.5" r="174" fill="none" stroke="#111" stroke-width="5.4" opacity="0.55"/>
<circle cx="1061" cy="1007.5" r="174" fill="none" stroke="#f3f3f3" stroke-width="4.2"/>
<circle cx="1061" cy="1007.5" r="174" fill="none" stroke="#8a8a8a" stroke-width="1.5"/>
<circle cx="1061" cy="1007.5" r="153.5" fill="none" stroke="#111" stroke-width="5.4" opacity="0.55"/>
<circle cx="1061" cy="1007.5" r="153.5" fill="none" stroke="#f3f3f3" stroke-width="4.2"/>
<circle cx="1061" cy="1007.5" r="153.5" fill="none" stroke="#8a8a8a" stroke-width="1.5"/>
<circle cx="1061" cy="1007.5" r="133" fill="none" stroke="#111" stroke-width="5.4" opacity="0.55"/>
<circle cx="1061" cy="1007.5" r="133" fill="none" stroke="#f3f3f3" stroke-width="4.2"/>
<circle cx="1061" cy="1007.5" r="133" fill="none" stroke="#8a8a8a" stroke-width="1.5"/>
<circle cx="1061" cy="1007.5" r="112.5" fill="none" stroke="#111" stroke-width="5.4" opacity="0.55"/>
<circle cx="1061" cy="1007.5" r="112.5" fill="none" stroke="#f3f3f3" stroke-width="4.2"/>
<circle cx="1061" cy="1007.5" r="112.5" fill="none" stroke="#8a8a8a" stroke-width="1.5"/>
<circle cx="1061" cy="1007.5" r="92" fill="none" stroke="#111" stroke-width="5.4" opacity="0.55"/>
<circle cx="1061" cy="1007.5" r="92" fill="none" stroke="#f3f3f3" stroke-width="4.2"/>
<circle cx="1061" cy="1007.5" r="92" fill="none" stroke="#8a8a8a" stroke-width="1.5"/>
<circle cx="1061" cy="1007.5" r="71.5" fill="none" stroke="#9a9a9a" stroke-width="4" opacity="0.55"/>
<circle cx="1061" cy="1007.5" r="71.5" fill="none" stroke="#fafafa" stroke-width="2.2"/>
<circle cx="1061" cy="1007.5" r="51" fill="none" stroke="#9a9a9a" stroke-width="4" opacity="0.55"/>
<circle cx="1061" cy="1007.5" r="51" fill="none" stroke="#fafafa" stroke-width="2.2"/>
<circle cx="1061" cy="1007.5" r="30.5" fill="none" stroke="#9a9a9a" stroke-width="4" opacity="0.55"/>
<circle cx="1061" cy="1007.5" r="30.5" fill="none" stroke="#fafafa" stroke-width="2.2"/>
<path d="M905 852 Q 990 930 1061 1007.5 Q 1140 1090 1214 1158" fill="none" stroke="#ececec" stroke-width="4.4"/>
<path d="M905 852 Q 990 930 1061 1007.5 Q 1140 1090 1214 1158" fill="none" stroke="#8e8e8e" stroke-width="1.4"/>
<path d="M1216 852 Q 1135 925 1061 1007.5 Q 985 1090 906 1158" fill="none" stroke="#ececec" stroke-width="4.4"/>
<path d="M1216 852 Q 1135 925 1061 1007.5 Q 985 1090 906 1158" fill="none" stroke="#8e8e8e" stroke-width="1.4"/>
<circle cx="902" cy="846" r="11.5" fill="none" stroke="#e4e4e4" stroke-width="3"/>
<circle cx="902" cy="846" r="11.5" fill="none" stroke="#8e8e8e" stroke-width="1"/>
<g transform="translate(902,846)"><circle r="8.5" fill="url(#gScrew)" stroke="#4a4a4a" stroke-width="0.8"/><circle r="5.27" fill="url(#gScrewIn)"/><g transform="rotate(20)" stroke="#8a8a8a" stroke-width="1.3" stroke-linecap="round"><path d="M-3.57 0H3.57M0 -3.57V3.57"/></g></g>
<circle cx="1219" cy="846" r="11.5" fill="none" stroke="#e4e4e4" stroke-width="3"/>
<circle cx="1219" cy="846" r="11.5" fill="none" stroke="#8e8e8e" stroke-width="1"/>
<g transform="translate(1219,846)"><circle r="8.5" fill="url(#gScrew)" stroke="#4a4a4a" stroke-width="0.8"/><circle r="5.27" fill="url(#gScrewIn)"/><g transform="rotate(60)" stroke="#8a8a8a" stroke-width="1.3" stroke-linecap="round"><path d="M-3.57 0H3.57M0 -3.57V3.57"/></g></g>
<circle cx="902" cy="1164" r="11.5" fill="none" stroke="#e4e4e4" stroke-width="3"/>
<circle cx="902" cy="1164" r="11.5" fill="none" stroke="#8e8e8e" stroke-width="1"/>
<g transform="translate(902,1164)"><circle r="8.5" fill="url(#gScrew)" stroke="#4a4a4a" stroke-width="0.8"/><circle r="5.27" fill="url(#gScrewIn)"/><g transform="rotate(40)" stroke="#8a8a8a" stroke-width="1.3" stroke-linecap="round"><path d="M-3.57 0H3.57M0 -3.57V3.57"/></g></g>
<circle cx="1218" cy="1162.5" r="11.5" fill="none" stroke="#e4e4e4" stroke-width="3"/>
<circle cx="1218" cy="1162.5" r="11.5" fill="none" stroke="#8e8e8e" stroke-width="1"/>
<g transform="translate(1218,1162.5)"><circle r="8.5" fill="url(#gScrew)" stroke="#4a4a4a" stroke-width="0.8"/><circle r="5.27" fill="url(#gScrewIn)"/><g transform="rotate(10)" stroke="#8a8a8a" stroke-width="1.3" stroke-linecap="round"><path d="M-3.57 0H3.57M0 -3.57V3.57"/></g></g>
<rect x="789" y="866.5" width="30" height="13" rx="5" fill="#474747"/>
<rect x="768.2" y="890.4" width="19" height="26.2" rx="2.5" fill="url(#gNut)"/>
<g stroke="#6f6f6f" stroke-width="1.1"><path d="M770.4 891l1.2 25"/><path d="M773.5 891l1.2 25"/><path d="M776.6 891l1.2 25"/><path d="M779.7 891l1.2 25"/><path d="M782.8 891l1.2 25"/></g>
<path d="M785.7 884 l4 -5.2 h10.5 l3.8 5.2 v34 l-3.8 5.3 h-10.5 l-4 -5.3z" fill="url(#gNut)" stroke="#9a9a9a" stroke-width="0.6"/>
<path d="M786 901.5h18" stroke="#bdbdbd" stroke-width="1"/>
<rect x="804" y="879.7" width="13.4" height="44.6" rx="3" fill="#dadada"/>
<path d="M804.4 881v42" stroke="#4e4e4e" stroke-width="1.3"/><path d="M810.5 881v42" stroke="#a8a8a8" stroke-width="1.2"/>
<path d="M816.7 859 q0 -6 6 -6 h20 q6 0 6 6 v47.9 h19.2 q6 0 6 6 v29.6 q0 6 -6 6 h-45.2 q-6 0 -6 -6z" fill="#4e4f52"/>
<path d="M816.7 859 q0 -6 6 -6 h14.8 v95.5 h-14.8 q-6 0 -6 -6z" fill="#606164"/>
<path d="M837.5 855v92" stroke="#7a7a7a" stroke-width="1.1"/>
<path d="M851.5 910.5 h14 q4.5 0 4.5 4.5 v27" fill="none" stroke="#6a6a6a" stroke-width="1.3"/>
<path d="M848.7 907v38" stroke="#353535" stroke-width="1.6"/>
<rect x="1336" y="892.3" width="18" height="24.2" rx="2" fill="url(#gNut)"/>
<g stroke="#6f6f6f" stroke-width="1.1"><path d="M1341.5 893l-1.2 23"/><path d="M1344.6 893l-1.2 23"/><path d="M1347.7 893l-1.2 23"/><path d="M1350.8 893l-1.2 23"/></g>
<rect x="1310" y="884" width="8" height="42" rx="2.5" fill="#d2d2d2"/>
<path d="M1316.4 886.5 l4 -5.8 h13 l4.5 5.8 v36.8 l-4.5 5.8 h-13 l-4 -5.8z" fill="url(#gNut)" stroke="#9a9a9a" stroke-width="0.6"/>
<path d="M1316.8 905h21" stroke="#bdbdbd" stroke-width="1"/><path d="M1316.6 888v34" stroke="#555" stroke-width="1.2"/>
<path d="M1237.6 874 q0 -5 5 -5 h19 q3 0 5 -2 l16 -10 q3 -2.2 7 -2.3 l16 -0.4 q4.6 0 4.7 5 l0.5 67 h7.2 q5 0 5 5 v17.3 q0 5 -5 5 h-50.7 q-5 0 -5 -5 v-40.8 h-19.7 q-5 0 -5 -5z" fill="url(#gRedT)"/>
<path d="M1241 872 h20 v33 h-20z" fill="#ff6a5c" opacity="0.35"/>
<path d="M1266.5 905 v-33" fill="none" stroke="#ff8a7c" stroke-width="1.6" opacity="0.7"/>
<path d="M1289 856 l1.5 96" fill="none" stroke="#c4241b" stroke-width="1.2" opacity="0.45"/>
<path d="M1310.5 862 l0.6 64.5 h7" fill="none" stroke="#b9140f" stroke-width="1.4" opacity="0.6"/>
</svg>
<svg width="1445" height="1369" viewBox="0 0 1445 1369">
<path d="M625 307.5 V276 H712" fill="none" stroke="#f4a646" stroke-width="2.7" stroke-dasharray="11.3 6" stroke-dashoffset="-8.5"/>
<path d="M625 307.5 H602.5 V374" fill="none" stroke="#f4a646" stroke-width="2.7" stroke-dasharray="11.3 6" stroke-dashoffset="0.5"/>
<path d="M625 307.5 H643.5 V374" fill="none" stroke="#f4a646" stroke-width="2.7" stroke-dasharray="11.3 6" stroke-dashoffset="4.5"/>
<circle cx="600.5" cy="377" r="4.6" fill="#f4a646"/>
<circle cx="643.5" cy="377" r="4.6" fill="#f4a646"/>
<path d="M712 276 H891" fill="none" stroke="#eda94e" stroke-width="2.4" stroke-dasharray="11.3 6" stroke-dashoffset="0"/>
<path d="M419.8 352.7 V399" fill="none" stroke="#f4a646" stroke-width="2.7" stroke-dasharray="11.3 6" stroke-dashoffset="0"/>
<path d="M419.8 405 V411.5 H428.5" fill="none" stroke="#f4a646" stroke-width="2.7" stroke-dasharray="100 0" stroke-dashoffset="0"/>
<path d="M435 411.5 H712" fill="none" stroke="#f4a646" stroke-width="2.7" stroke-dasharray="11.1 5.8" stroke-dashoffset="0"/>
<circle cx="420.1" cy="353.6" r="4.6" fill="#f4a646"/>
<g stroke="#f6e33a" stroke-width="1.3"><line x1="421" y1="368" x2="421" y2="370.6" transform="rotate(0 421 377)"/><line x1="421" y1="368" x2="421" y2="370.6" transform="rotate(30 421 377)"/><line x1="421" y1="368" x2="421" y2="370.6" transform="rotate(60 421 377)"/><line x1="421" y1="368" x2="421" y2="370.6" transform="rotate(90 421 377)"/><line x1="421" y1="368" x2="421" y2="370.6" transform="rotate(120 421 377)"/><line x1="421" y1="368" x2="421" y2="370.6" transform="rotate(150 421 377)"/><line x1="421" y1="368" x2="421" y2="370.6" transform="rotate(180 421 377)"/><line x1="421" y1="368" x2="421" y2="370.6" transform="rotate(210 421 377)"/><line x1="421" y1="368" x2="421" y2="370.6" transform="rotate(240 421 377)"/><line x1="421" y1="368" x2="421" y2="370.6" transform="rotate(270 421 377)"/><line x1="421" y1="368" x2="421" y2="370.6" transform="rotate(300 421 377)"/><line x1="421" y1="368" x2="421" y2="370.6" transform="rotate(330 421 377)"/></g>
<circle cx="421" cy="377" r="5.4" fill="#f7e53c"/><path d="M421.6 373.5l-2 3.6h2.2l-1.6 3.6" stroke="#f2a23a" stroke-width="1" fill="none"/>
<path d="M712 411.5 H1114" fill="none" stroke="#eda94e" stroke-width="2.4" stroke-dasharray="11.3 6" stroke-dashoffset="0"/>
<path d="M710 443 H626" fill="none" stroke="#f4a646" stroke-width="2.7" stroke-dasharray="11.3 6" stroke-dashoffset="0"/>
<circle cx="622.5" cy="441.5" r="4.6" fill="#f4a646"/>
<path d="M712 443 H1110" fill="none" stroke="#eda94e" stroke-width="2.4" stroke-dasharray="11.3 6" stroke-dashoffset="0"/>
<path d="M710 477.5 H600 L576 494.5" fill="none" stroke="#f4a646" stroke-width="2.7" stroke-dasharray="11.3 6" stroke-dashoffset="0"/>
<circle cx="573.75" cy="496.25" r="4.6" fill="#f4a646"/>
<path d="M712 477.5 H1110" fill="none" stroke="#eda94e" stroke-width="2.4" stroke-dasharray="11.3 6" stroke-dashoffset="0"/>
<path d="M710 511.5 H630" fill="none" stroke="#f4a646" stroke-width="2.7" stroke-dasharray="11.3 6" stroke-dashoffset="0"/>
<circle cx="626" cy="512.5" r="4.6" fill="#f4a646"/>
<path d="M712 511.5 H1110" fill="none" stroke="#eda94e" stroke-width="2.4" stroke-dasharray="11.3 6" stroke-dashoffset="0"/>
<path d="M708 635.3 H221.7 V560" fill="none" stroke="#f4a646" stroke-width="2.7" stroke-dasharray="11.3 6" stroke-dashoffset="0"/>
<circle cx="220.5" cy="554.5" r="4.6" fill="#f4a646"/>
<path d="M710 635.3 H1114.5" fill="none" stroke="#eda94e" stroke-width="2.4" stroke-dasharray="11.3 6" stroke-dashoffset="0"/>
<path d="M420 804.3 H762" fill="none" stroke="#eda94e" stroke-width="2.4" stroke-dasharray="11.3 6" stroke-dashoffset="0"/>
<path d="M762 804 H1066 V947" fill="none" stroke="#f4a646" stroke-width="2.7" stroke-dasharray="11.3 6" stroke-dashoffset="0"/>
<circle cx="1066" cy="951" r="3.6" fill="#f4a646"/>
<path d="M425 947.3 H762" fill="none" stroke="#eda94e" stroke-width="2.4" stroke-dasharray="11.3 6" stroke-dashoffset="0"/>
<path d="M762 947.3 H816" fill="none" stroke="#f4a646" stroke-width="2.7" stroke-dasharray="11.3 6" stroke-dashoffset="0"/>
<circle cx="820" cy="947.5" r="4.8" fill="#f4a646"/>
<path d="M421 1145 H762" fill="none" stroke="#eda94e" stroke-width="2.4" stroke-dasharray="11.3 6" stroke-dashoffset="0"/>
<path d="M1296 941 V1145 H762" fill="none" stroke="#3a2a18" stroke-width="3.8" stroke-dasharray="12.3 5" stroke-dashoffset="0.5"/>
<path d="M1296 941 V1145 H762" fill="none" stroke="#f4a646" stroke-width="2.7" stroke-dasharray="11.3 6" stroke-dashoffset="0"/>
<circle cx="1296" cy="937" r="3.8" fill="#f4a646"/>
</svg>
<h1 class="grp"><span class="t" id="t1a" style="left:479.32px;top:-10.37px;font-size:94px;font-weight:700;color:#fba337;transform:scaleX(1.0765)">4000</span><span class="t" id="t1b" style="left:701.60px;top:-21.38px;font-size:107px;font-weight:700;color:#fba337;transform:scaleX(0.8241)">w</span> <span class="t" id="t1c" style="left:793.97px;top:-10.37px;font-size:94px;font-weight:700;color:#fba337;transform:scaleX(1.0099)">24</span><span class="t" id="t1d" style="left:901.66px;top:-21.38px;font-size:107px;font-weight:700;color:#fba337;transform:scaleX(0.8448)">v</span></h1>
<h2 class="grp"><span class="t" id="t2a" style="left:112.80px;top:98.63px;font-size:81px;font-weight:700;color:#3d3d3d;transform:scaleX(1.0209)">Pure</span> <span class="t" id="t2b" style="left:317.61px;top:98.63px;font-size:81px;font-weight:700;color:#3d3d3d;transform:scaleX(0.9964)">Sine</span> <span class="t" id="t2c" style="left:511.00px;top:98.63px;font-size:81px;font-weight:700;color:#3d3d3d;transform:scaleX(1.0107)">Wave</span> <span class="t" id="t2d" style="left:743.40px;top:98.63px;font-size:81px;font-weight:700;color:#3d3d3d;transform:scaleX(1.0409)">Power</span> <span class="t" id="t2e" style="left:1017.80px;top:98.63px;font-size:81px;font-weight:700;color:#3d3d3d;transform:scaleX(1.0794)">Inverter</span></h2>
<p class="grp"><span class="t" id="r1" style="left:900.21px;top:252.91px;font-size:25.5px;font-weight:400;color:#2b2b2b;transform:scaleX(1.1474)">Power indicator</span> <span class="t" id="r2" style="left:900.27px;top:285.41px;font-size:25.5px;font-weight:400;color:#2b2b2b;transform:scaleX(1.1139)">(Red-Fault,Green-Normal)</span></p>
<div class="t" id="r3" style="left:1124.90px;top:398.41px;font-size:25.5px;font-weight:400;color:#2b2b2b;transform:scaleX(1.0500)">LCD Display</div>
<div class="t" id="r4" style="left:1124.74px;top:429.91px;font-size:25.5px;font-weight:400;color:#2b2b2b;transform:scaleX(1.1291)">Power Switch</div>
<div class="t" id="r5" style="left:1122.74px;top:465.41px;font-size:25.5px;font-weight:400;color:#2b2b2b;transform:scaleX(1.1317)">Remote Controller</div>
<div class="t" id="r6" style="left:1126.00px;top:500.41px;font-size:25.5px;font-weight:400;color:#2b2b2b;transform:scaleX(1.0000)">USB 5V 2.4A</div>
<div class="t" id="r7" style="left:1123.95px;top:621.91px;font-size:25.5px;font-weight:400;color:#2b2b2b;transform:scaleX(1.0540)">2 AC Socket</div>
<p class="grp"><span class="t" id="l1" style="left:223.87px;top:759.22px;font-size:34px;font-weight:400;color:#333;transform:scaleX(1.2113)">Intelligent</span> <span class="t" id="l2" style="left:200.30px;top:803.72px;font-size:34px;font-weight:400;color:#333;transform:scaleX(1.0978)">Cooling Fan</span></p>
<div class="t" id="l3" style="left:89.04px;top:934.47px;font-size:34px;font-weight:400;color:#333;transform:scaleX(1.1541)">Negative Terminal</div>
<div class="t" id="l4" style="left:105.26px;top:1128.72px;font-size:34px;font-weight:400;color:#333;transform:scaleX(1.1624)">Positive Terminal</div>
</body></html>
